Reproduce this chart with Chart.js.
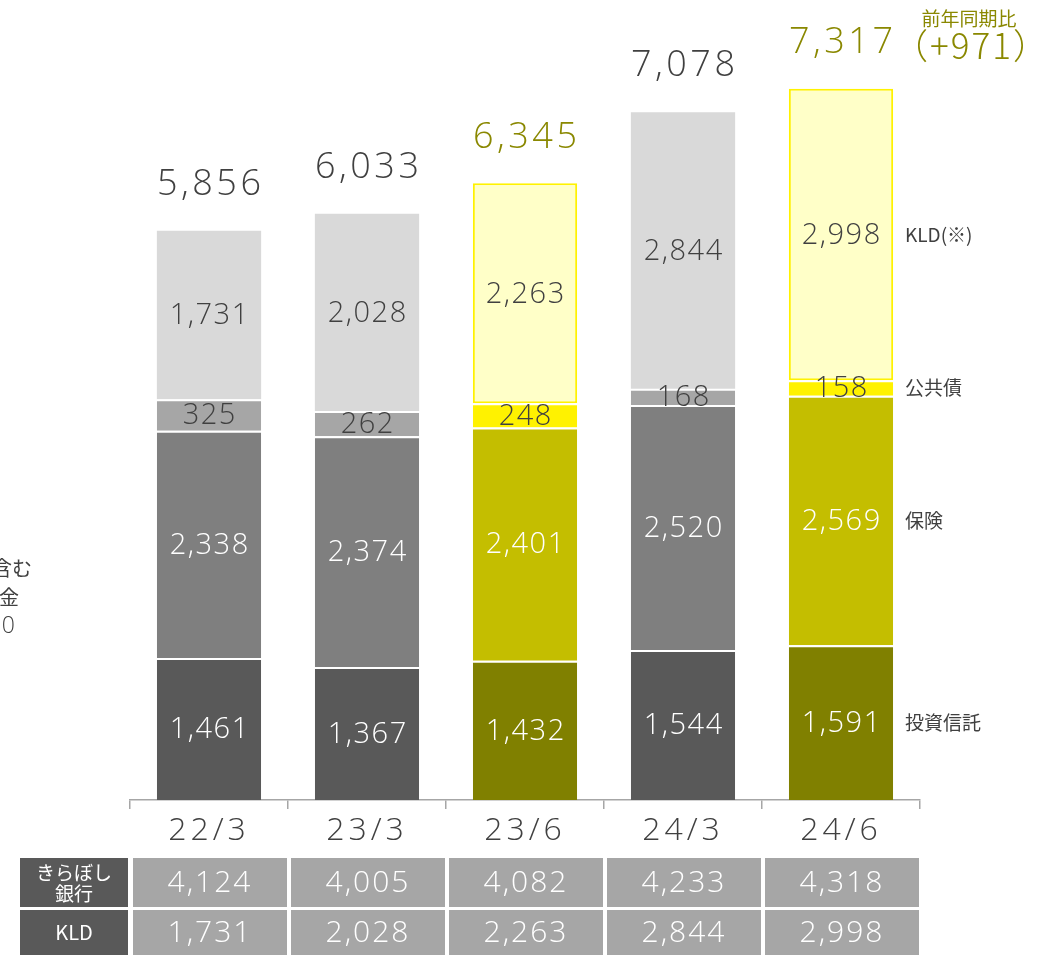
<!DOCTYPE html>
<html lang="ja">
<head>
  <meta charset="UTF-8" />
  <title>預り資産残高</title>
  <script src="https://cdn.jsdelivr.net/npm/chart.js"></script>
  <style>
    body { margin: 0; background: #fff; }
    #wrap { position: relative; width: 1049px; height: 955px; }
  </style>
</head>
<body>
  <div id="wrap"><canvas id="chart"></canvas></div>

  <script>
    // data
    const categories = ['22/3', '23/3', '23/6', '24/3', '24/6'];
    const seriesNames = ['投資信託', '保険', '公共債', 'KLD(※)'];
    const toushin    = [1461, 1367, 1432, 1544, 1591];
    const hoken      = [2338, 2374, 2401, 2520, 2569];
    const koukyousai = [325, 262, 248, 168, 158];
    const kld        = [1731, 2028, 2263, 2844, 2998];
    const totals     = [5856, 6033, 6345, 7078, 7317];
    const highlight  = [false, false, true, false, true];
    const bankRow    = [4124, 4005, 4082, 4233, 4318];
    const kldRow     = [1731, 2028, 2263, 2844, 2998];
    const yoyText    = '（+971）';

    const FONT = '"Open Sans", "Noto Sans CJK JP", sans-serif';
    const JP = '"Noto Sans CJK JP", sans-serif';
    const DARK = '#404040';
    const OLIVE_TXT = '#8a8800';

    // [gray, yellow] per series
    const palette = [
      ['#595959', '#808000'],
      ['#7f7f7f', '#c4be00'],
      ['#a6a6a6', '#fff200'],
      ['#d9d9d9', '#ffffc8'],
    ];
    const labelColor = [
      ['#ffffff', '#ffffff'],
      ['#ffffff', '#ffffff'],
      [DARK, DARK],
      [DARK, DARK],
    ];

    const fmt = v => v.toLocaleString('en-US');

    function makeSet(name, values, idx) {
      const isTop = idx === 3;
      return {
        label: name,
        data: values,
        backgroundColor: highlight.map(h => palette[idx][h ? 1 : 0]),
        borderColor: highlight.map(h => (isTop && h) ? '#fff200' : '#ffffff'),
        borderWidth: highlight.map(h => {
          if (isTop) return h ? 2 : 0;
          return { top: 2, bottom: 0, left: 0, right: 0 };
        }),
        borderSkipped: false,
        barPercentage: 0.66,
        categoryPercentage: 1,
      };
    }

    // centred text with extra letter spacing
    function spaced(ctx, text, x, y, ls) {
      ctx.letterSpacing = ls + 'px';
      ctx.fillText(text, x + ls / 2, y);
      ctx.letterSpacing = '0px';
    }

    const spacing = {
      id: 'spacing',
      beforeDraw(chart) { chart.ctx.letterSpacing = '4px'; },
      beforeDatasetsDraw(chart) { chart.ctx.letterSpacing = '0px'; },
    };

    const segLabels = {
      id: 'segLabels',
      afterDatasetsDraw(chart) {
        const ctx = chart.ctx;
        ctx.save();
        ctx.textAlign = 'center';
        ctx.textBaseline = 'middle';
        ctx.font = '300 29px ' + FONT;
        chart.data.datasets.forEach((ds, di) => {
          const meta = chart.getDatasetMeta(di);
          meta.data.forEach((bar, i) => {
            const y = (bar.y + bar.base) / 2;
            ctx.fillStyle = labelColor[di][highlight[i] ? 1 : 0];
            spaced(ctx, fmt(ds.data[i]), bar.x, y + 1, 1.5);
          });
        });

        // totals above bars
        const topMeta = chart.getDatasetMeta(3);
        ctx.font = '300 36px ' + FONT;
        topMeta.data.forEach((bar, i) => {
          ctx.fillStyle = highlight[i] ? OLIVE_TXT : DARK;
          spaced(ctx, fmt(totals[i]), bar.x, bar.y - 46, 3.5);
        });
        // yoy for last bar
        const last = topMeta.data[topMeta.data.length - 1];
        ctx.fillStyle = OLIVE_TXT;
        ctx.textAlign = 'left';
        ctx.font = '300 35px ' + JP;
        ctx.letterSpacing = '2px';
        ctx.fillText(yoyText, last.x + 52, last.y - 43);
        ctx.letterSpacing = '0px';
        ctx.font = '19px ' + JP;
        ctx.textAlign = 'center';
        ctx.fillText('前年同期比', 969, 19);

        // series names at right of last bar
        ctx.fillStyle = DARK;
        ctx.textAlign = 'left';
        ctx.font = '19px ' + JP;
        chart.data.datasets.forEach((ds, di) => {
          const bar = chart.getDatasetMeta(di).data[categories.length - 1];
          ctx.fillText(seriesNames[di], 905, (bar.y + bar.base) / 2);
        });

        // cut-off note at left edge
        ctx.textAlign = 'right';
        ctx.font = '20px ' + JP;
        ctx.fillText('含む', 32, 568);
        ctx.fillText('金', 19, 597);
        ctx.font = '300 23px ' + FONT;
        ctx.fillText('0', 15, 626);
        ctx.restore();
      }
    };

    const table = {
      id: 'table',
      afterDraw(chart) {
        const ctx = chart.ctx;
        const xs = chart.scales.x;
        const step = xs.width / categories.length;
        const rows = [
          { name: ['きらぼし', '銀行'], vals: bankRow, y0: 858, y1: 907 },
          { name: ['KLD'], vals: kldRow, y0: 910, y1: 955 },
        ];
        ctx.save();
        ctx.letterSpacing = '0px';
        ctx.textAlign = 'center';
        ctx.textBaseline = 'middle';
        rows.forEach(r => {
          const cy = (r.y0 + r.y1) / 2;
          ctx.fillStyle = '#595959';
          ctx.fillRect(20, r.y0, 108, r.y1 - r.y0);
          ctx.fillStyle = '#ffffff';
          if (r.name.length === 2) {
            ctx.font = '19px ' + JP;
            ctx.fillText(r.name[0], 74, cy - 10);
            ctx.fillText(r.name[1], 74, cy + 11);
          } else {
            ctx.font = '20px ' + JP;
            ctx.fillText(r.name[0], 74, cy);
          }
          r.vals.forEach((v, i) => {
            const cx = xs.getPixelForValue(i);
            ctx.fillStyle = '#a6a6a6';
            ctx.fillRect(cx - step / 2 + 3, r.y0, step - 4, r.y1 - r.y0);
            ctx.fillStyle = '#ffffff';
            ctx.font = '300 30px ' + FONT;
            spaced(ctx, fmt(v), cx, cy + 1, 2);
          });
        });
        ctx.restore();
      }
    };

    new Chart(document.getElementById('chart'), {
      type: 'bar',
      data: {
        labels: categories,
        datasets: [
          makeSet(seriesNames[0], toushin, 0),
          makeSet(seriesNames[1], hoken, 1),
          makeSet(seriesNames[2], koukyousai, 2),
          makeSet(seriesNames[3], kld, 3),
        ],
      },
      options: {
        responsive: true,
        maintainAspectRatio: false,
        animation: false,
        layout: { padding: { left: 130, right: 129, top: 0, bottom: 0 } },
        plugins: {
          legend: { display: false },
          tooltip: { enabled: false },
        },
        scales: {
          x: {
            stacked: true,
            afterFit(axis) { axis.height = 155; },
            border: { display: true, color: '#a6a6a6', width: 1.5 },
            grid: {
              offset: true,
              drawOnChartArea: false,
              drawTicks: true,
              tickLength: 9,
              color: '#a6a6a6',
              lineWidth: 1.5,
            },
            ticks: {
              color: DARK,
              font: { family: FONT, size: 32, weight: '300' },
              padding: 3,
            },
          },
          y: {
            stacked: true,
            display: false,
            min: 0,
            max: 8230,
          },
        },
      },
      plugins: [spacing, segLabels, table],
    });
  </script>
</body>
</html>
